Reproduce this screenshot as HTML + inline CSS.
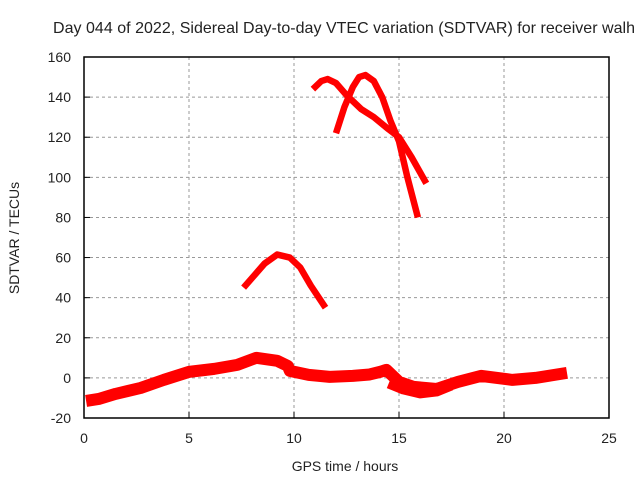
<!DOCTYPE html>
<html><head><meta charset="utf-8"><style>
body{margin:0;background:#fff;font-family:"Liberation Sans",sans-serif}
svg text{font-family:"Liberation Sans",sans-serif;font-size:14px;fill:#222}
</style></head><body>
<svg id="c" width="640" height="480">
<text x="344" y="33" text-anchor="middle" style="font-size:16px" textLength="582">Day 044 of 2022, Sidereal Day-to-day VTEC variation (SDTVAR) for receiver walh</text>
<text x="345" y="471" text-anchor="middle">GPS time / hours</text>
<text transform="translate(19,238) rotate(-90)" text-anchor="middle">SDTVAR / TECUs</text>
<g id="grid"></g><g id="marks"></g>
<rect x="84" y="57" width="525" height="361" fill="none" stroke="#000" stroke-width="1.5"/>
</svg>
<script>
const xTicks=[0,5,10,15,20,25];
const yTicks=[-20,0,20,40,60,80,100,120,140,160];
const bandH=[0.1,0.7,1.5,2.7,3.8,5,6.2,7.3,8.2,9.2,9.7,9.8,10.7,11.7,12.8,13.6,14.1,14.4,15,15.7,16.8,17.8,18.9,20.4,21.5,23];
const bandV=[-11.5,-10.5,-8,-5,-1,3,4.5,6.5,10,8.5,6,3.5,1.5,0.5,1,1.7,3,4,-2,-4.5,-5.5,-2,1,-1,0,2.5];
const lowH=[14.5,15.2,16,16.8,17.5];
const lowV=[-3,-6,-8,-7,-4];
const humpH=[7.6,8.1,8.6,9.2,9.8,10.3,10.8,11.5];
const humpV=[45,51,57,61.5,60,55,46,35];
const archBH=[10.9,11.3,11.6,12,12.5,13.2,13.8,14.5,15,15.6,16.3];
const archBV=[144,148,149,147,141,134,130,124,120,110,97];
const archCH=[12,12.4,12.8,13.1,13.4,13.8,14.2,14.6,15,15.4,15.9];
const archCV=[122,135,145,150,151,148,140,128,118,100,80];
const X=h=>84+h*21, Y=v=>57+(160-v)*361/180;
const NS="http://www.w3.org/2000/svg";
const g=document.getElementById('grid'), m=document.getElementById('marks');
function el(t,a,p){const e=document.createElementNS(NS,t);for(const k in a)e.setAttribute(k,a[k]);p.appendChild(e);return e;}
xTicks.forEach(t=>{
 if(t>0&&t<25){const l=el('line',{x1:X(t),x2:X(t),y1:57,y2:418,stroke:'#999','stroke-dasharray':'3,3'},g);
 
 }
 const tk=el('line',{x1:X(t),x2:X(t),y1:418,y2:412,stroke:'#000'},g);
 
 
 const tx=el('text',{x:X(t),y:443,'text-anchor':'middle'},g);tx.textContent=t;
 
 
});
yTicks.forEach(t=>{
 if(t>-20&&t<160){const l=el('line',{x1:84,x2:609,y1:Y(t),y2:Y(t),stroke:'#999','stroke-dasharray':'3,3'},g);
 
 }
 const tk=el('line',{x1:84,x2:90,y1:Y(t),y2:Y(t),stroke:'#000'},g);
 
 
 const tx=el('text',{x:71,y:Y(t)+5,'text-anchor':'end'},g);tx.textContent=t;
 
 
});
function series(hs,vs,w,name){
 const p=el('polyline',{points:hs.map((h,i)=>X(h)+','+Y(vs[i])).join(' '),fill:'none',stroke:'#f00','stroke-width':w,'stroke-linejoin':'round'},m);
 
 
}
series(bandH,bandV,12,'series-band');
series(lowH,lowV,9,'series-band-low');
series(humpH,humpV,6.5,'series-hump');
series(archBH,archBV,6.5,'series-arc-b');
series(archCH,archCV,6.5,'series-arc-c');
</script>
</body></html>
